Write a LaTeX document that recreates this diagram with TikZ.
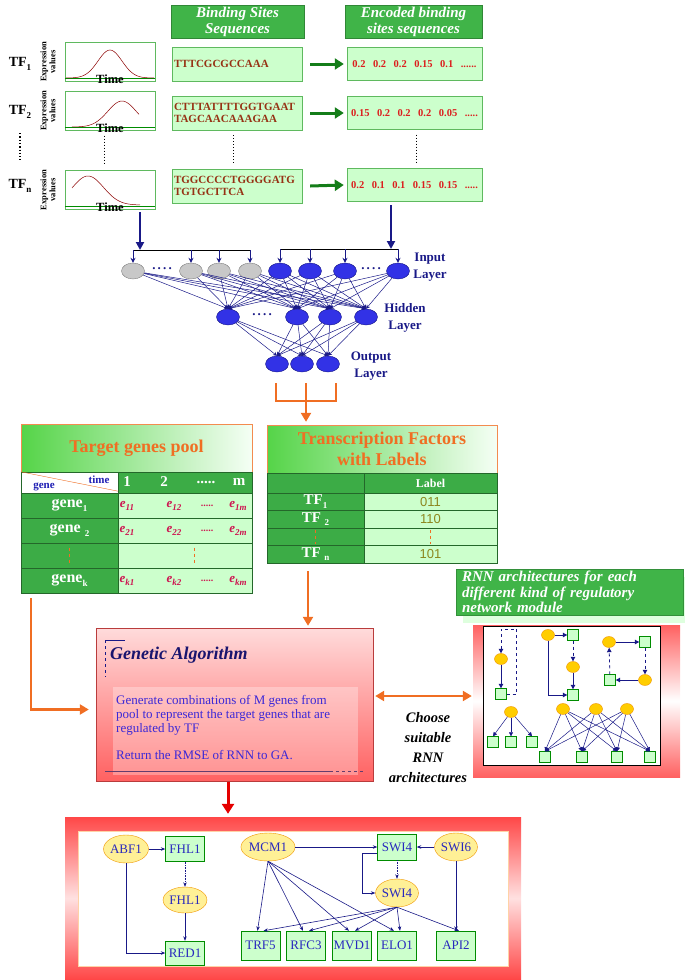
\documentclass[tikz,border=0pt]{standalone}
\usepackage{fontspec}
\setmainfont{Liberation Serif}
\newfontfamily\arialfont{Liberation Sans}
\usetikzlibrary{arrows.meta,shapes.geometric,positioning}

\definecolor{hdrgreen}{RGB}{64,180,72}
\definecolor{tabgreen}{RGB}{60,172,70}
\definecolor{headlime}{RGB}{85,212,72}
\definecolor{cellgreen}{RGB}{204,255,204}
\definecolor{edgegreen}{RGB}{95,185,95}
\definecolor{arrowgreen}{RGB}{20,125,25}
\definecolor{seqbrown}{RGB}{150,50,20}
\definecolor{codered}{RGB}{220,30,30}
\definecolor{cellred}{RGB}{205,20,80}
\definecolor{nnblue}{RGB}{50,50,230}
\definecolor{nngray}{RGB}{200,200,200}
\definecolor{navy}{RGB}{25,25,135}
\definecolor{pumpkin}{RGB}{240,110,35}
\definecolor{gatitle}{RGB}{25,20,110}
\definecolor{gatext}{RGB}{60,40,215}
\definecolor{garim}{RGB}{185,60,60}
\definecolor{plum}{RGB}{100,60,110}
\definecolor{netblue}{RGB}{40,40,190}
\definecolor{knot}{RGB}{255,205,0}
\definecolor{knotrim}{RGB}{240,150,0}
\definecolor{paleknot}{RGB}{255,240,150}
\definecolor{olivetxt}{RGB}{140,135,30}
\definecolor{labblue}{RGB}{30,30,180}

\newcommand*\fsz[1]{\fontsize{#1}{#1}\selectfont}
\newcommand*\lowsub[1]{\raisebox{-0.5ex}{\fsz{9}#1}}
\newcommand*\vgap{\hspace{7.5pt}}

\tikzset{
  hdrbox/.style={draw=hdrgreen!75!black, fill=hdrgreen, text=white, align=center,
    font=\bfseries\itshape\fontsize{15}{16}\selectfont, minimum height=33pt},
  plotbox/.style={draw=edgegreen, fill=white, minimum width=90pt, minimum height=39pt},
  exprlab/.style={rotate=90, align=center, font=\bfseries\fontsize{8.5}{9}\selectfont},
  tflab/.style={font=\bfseries\fsz{14}},
  curve/.style={draw=red!55!black, line width=.5pt},
  seqbox/.style={draw=edgegreen, fill=cellgreen, minimum width=130pt, minimum height=34pt,
    text width=126pt, align=left, text=seqbrown, font=\bfseries\fontsize{11}{12}\selectfont},
  encbox/.style={draw=edgegreen, fill=cellgreen, minimum width=135pt, minimum height=33pt,
    text=codered, font=\bfseries\fsz{10.5}},
  grnarrow/.style={arrowgreen, line width=3pt, -{Triangle[length=9pt,width=11pt]}},
  vdots/.style={dotted, line width=1pt},
  % neural network
  graynode/.style={ellipse, draw=gray, fill=nngray, minimum width=23pt, minimum height=16pt},
  bluenode/.style={ellipse, draw=navy, fill=nnblue, minimum width=23pt, minimum height=16pt},
  nnedge/.style={navy, line width=.5pt, -{Stealth[length=4pt,width=4pt]}},
  feedarrow/.style={navy, line width=.8pt, -{Stealth[length=5pt,width=5pt]}},
  bigarrow/.style={navy, line width=2pt, -{Triangle[length=8pt,width=8pt]}},
  layerlab/.style={text=navy, align=center, font=\bfseries\fontsize{13}{16.5}\selectfont},
  % tables
  tabhead/.style={draw=pumpkin!80, left color=headlime, right color=green!4, text=pumpkin,
    align=center, font=\bfseries\fontsize{18}{21}\selectfont},
  darkcell/.style={draw=tabgreen!60!black, fill=tabgreen, text=white},
  lightcell/.style={draw=tabgreen!60!black, fill=cellgreen},
  ecell/.style={text=cellred, font=\bfseries\itshape\fsz{13}},
  orline/.style={pumpkin, line width=2.5pt},
  orarrow/.style={pumpkin, line width=2.5pt, -{Triangle[length=9pt,width=10pt]}},
  % genetic algorithm
  gabox/.style={draw=garim, top color=red!14, bottom color=red!62!white, minimum width=277pt, minimum height=153pt},
  redarrow/.style={red!90!black, line width=3pt, -{Triangle[length=10pt,width=12pt]}},
  % small RNN modules
  rknot/.style={ellipse, draw=knotrim, fill=knot, minimum width=13pt, minimum height=11pt},
  rsq/.style={draw=green!55!black, fill=cellgreen, minimum width=11pt, minimum height=11pt},
  rarr/.style={navy, line width=1pt, -{Triangle[length=4.5pt,width=4.5pt]}},
  rthin/.style={navy, line width=.5pt, -{Triangle[length=4pt,width=4pt]}},
  % regulatory network
  tfell/.style={ellipse, draw=knotrim, fill=paleknot, text=netblue, font=\fsz{13},
    minimum width=40pt, minimum height=28pt},
  tgbox/.style={draw=green!55!black, fill=cellgreen, text=netblue, font=\fsz{13},
    minimum width=39pt, minimum height=27pt},
  netarr/.style={navy, line width=.6pt, -{Stealth[length=4.5pt,width=3.5pt]}},
}

\begin{document}
\begin{tikzpicture}[x=1pt, y=-1pt, every node/.style={inner sep=0pt}]
\useasboundingbox (0,0) rectangle (685,980);

% ---- expression profiles and binding sites
\node[hdrbox, minimum width=133pt] (bindhd) at (237.5,22) {Binding Sites\\Sequences};
\node[hdrbox, minimum width=137pt] (enchd) at (413.5,22) {Encoded binding\\sites sequences};

\foreach \i/\y in {1/62, 2/111, n/190}{
  \node[plotbox] (plot\i) at (110,\y) {};
  \node[exprlab] (expr\i) at (48,\y) {Expression\\values};
  \draw[green!55!black, line width=.8pt] ([yshift=3pt]plot\i.south west) -- ([yshift=3pt]plot\i.south east);
  \node[font=\bfseries\fsz{12.5}] (time\i) at ([yshift=2pt]plot\i.south) {Time};
}
\draw[curve] plot[domain=66:154, samples=45] (\x,{78-28*exp(-((\x-110)/17)*((\x-110)/17))});
\draw[curve] plot[domain=72:139, samples=45] (\x,{127-26*exp(-((\x-122)/20)*((\x-122)/20))});
\draw[curve] plot[domain=72:140, samples=45] (\x,{205-29*exp(-((\x-88)/22)*((\x-88)/22))});

\node[tflab] (tf1) at (20,64) {TF\lowsub{1}};
\node[tflab] (tf2) at (20,112) {TF\lowsub{2}};
\node[tflab] (tfn) at (20,186) {TF\lowsub{n}};
\draw[vdots, line width=1.3pt] (tf2) ++(0,21) -- ++(0,27);

\node[seqbox] (seq1) at (237,64) {TTTCGCGCCAAA};
\node[seqbox] (seq2) at (237,113) {CTTTATTTTGGTGAAT\\TAGCAACAAAGAA};
\node[seqbox] (seqn) at (237,186) {TGGCCCCTGGGGATG\\TGTGCTTCA};

\node[encbox] (enc1) at (414.5,64) {0.2\vgap 0.2\vgap 0.2\vgap 0.15\vgap 0.1\vgap ......};
\node[encbox] (enc2) at (414.5,113) {0.15\vgap 0.2\vgap 0.2\vgap 0.2\vgap 0.05\vgap .....};
\node[encbox] (encn) at (414.5,185) {0.2\vgap 0.1\vgap 0.1\vgap 0.15\vgap 0.15\vgap .....};

\foreach \i in {1,2,n}
  \draw[grnarrow] ([xshift=8pt]seq\i.east) -- ([xshift=-3pt]enc\i.west);

\draw[vdots] ([xshift=-6pt,yshift=-5pt]plot2.south) -- ([xshift=-6pt,yshift=5pt]plotn.north);
\draw[vdots] ([xshift=-4pt,yshift=-5pt]seq2.south) -- ([xshift=-4pt,yshift=6pt]seqn.north);
\draw[vdots] ([xshift=1.5pt,yshift=-5pt]enc2.south) -- ([xshift=1.5pt,yshift=6pt]encn.north);

% ---- neural network
\foreach \x [count=\i] in {133,191,219,250}
  \node[graynode] (in\i) at (\x,271) {};
\foreach \x [count=\i from 5] in {280,310,345,398}
  \node[bluenode] (in\i) at (\x,271) {};
\foreach \x [count=\i] in {228,297,330,366}
  \node[bluenode] (hd\i) at (\x,317) {};
\foreach \x [count=\i] in {277,302,328}
  \node[bluenode] (out\i) at (\x,364) {};

\node[text=navy, font=\bfseries\fsz{13}] (indotsL) at (162,269) {.\,.\,.\,.};
\node[text=navy, font=\bfseries\fsz{13}] (indotsR) at (371,269) {.\,.\,.\,.};
\node[text=navy, font=\bfseries\fsz{13}] (hddots) at (262,315) {.\,.\,.\,.};

\foreach \i in {1,...,8}
  \foreach \j in {1,...,4}
    \draw[nnedge] (in\i) -- (hd\j.north);
\foreach \j in {1,...,4}
  \foreach \k in {1,2,3}
    \draw[nnedge] (hd\j) -- (out\k.north);

\coordinate (brkL) at (133,250);
\coordinate (brkR) at (279,249);
\draw[black, line width=1pt] (in1 |- brkL) -- (in4 |- brkL);
\draw[black, line width=1pt] (in5 |- brkR) -- (in8 |- brkR);
\foreach \i in {1,...,4}
  \draw[feedarrow] (in\i |- brkL) -- (in\i.north);
\foreach \i in {5,...,8}
  \draw[feedarrow] (in\i |- brkR) -- (in\i.north);

\coordinate (plotout) at (140,212);
\coordinate (encout) at (391,205);
\draw[bigarrow] (plotout) -- (plotout |- brkL);
\draw[bigarrow] (encout) -- (encout |- brkR);

\node[layerlab] (inlab) at (430,267) {Input\\Layer};
\node[layerlab] (hdlab) at (405,318) {Hidden\\Layer};
\node[layerlab] (outlab) at (371,366) {Output\\Layer};

% ---- target genes pool
\node[tabhead, minimum width=231pt, minimum height=48pt] (poolhd) at (136.5,448) {Target genes pool};
\node[draw=tabgreen!60!black, fill=white, minimum width=97pt, minimum height=21pt] (pl0) at (69.5,482.5) {};
\draw[pumpkin] (pl0.north west) -- ([yshift=2pt]pl0.south east);
\node[text=labblue, font=\bfseries\fsz{11}] (genelab) at (44,487) {gene};
\node[text=labblue, font=\bfseries\fsz{11}] (timelab) at (99,480) {time};
\node[darkcell, minimum width=134pt, minimum height=21pt] (pr0) at (185,482.5) {};
\foreach \x/\t in {127/1, 164/2, 206/{.....}, 239/m}
  \node[text=white, font=\bfseries\fsz{15}] (col\x) at (\x,482) {\t};

\foreach \n/\y/\lab in {1/505.5/{gene\lowsub{1}}, 2/530.5/{gene \lowsub{2}}, 3/555.5/{}, k/580.5/{gene\lowsub{k}}}{
  \node[darkcell, minimum width=97pt, minimum height=25pt, font=\bfseries\fsz{16}] (pl\n) at (69.5,\y) {\lab};
  \node[lightcell, minimum width=134pt, minimum height=25pt] (pr\n) at (185,\y) {};
}
\foreach \n/\y in {1/505.5, 2/530.5, k/580.5}{
  \node[ecell] (e\n1) at (127,\y) {e\lowsub{\n1}};
  \node[ecell] (e\n2) at (174,\y) {e\lowsub{\n2}};
  \node[ecell, font=\bfseries\fsz{10}] (e\n d) at (207,\y) {.....};
  \node[ecell] (e\n m) at (238,\y) {e\lowsub{\n m}};
}
\draw[pumpkin, dashed, line width=.8pt] ([yshift=8pt]pl3.center) -- ([yshift=-8pt]pl3.center);
\draw[pumpkin, dashed, line width=.8pt] ([xshift=9pt,yshift=8pt]pr3.center) -- ([xshift=9pt,yshift=-8pt]pr3.center);

% ---- transcription factors with labels
\node[tabhead, minimum width=230pt, minimum height=48pt] (tfhd) at (382,449) {Transcription Factors\\with Labels};
\node[darkcell, minimum width=97pt, minimum height=20pt] (tl0) at (315.5,483) {};
\node[darkcell, minimum width=133pt, minimum height=20pt, font=\bfseries\fsz{12}] (tr0) at (430.5,483) {Label};
\foreach \n/\y/\lab/\code in {1/501.75/{TF\lowsub{1}}/011, 2/519.25/{TF \lowsub{2}}/110, 3/536.75/{}/{}, n/554.25/{TF \lowsub{n}}/101}{
  \node[darkcell, minimum width=97pt, minimum height=17.5pt, font=\bfseries\fsz{15}] (tl\n) at (315.5,\y) {\lab};
  \node[lightcell, minimum width=133pt, minimum height=17.5pt, text=olivetxt, font=\arialfont\fsz{13}] (tr\n) at (430.5,\y) {\code};
}
\draw[pumpkin, dashed, line width=.8pt] ([yshift=7pt]tl3.center) -- ([yshift=-7pt]tl3.center);
\draw[pumpkin, dashed, line width=.8pt] ([yshift=7pt]tr3.center) -- ([yshift=-7pt]tr3.center);

% ---- orange connectors
\coordinate (ob1) at (276,383);
\coordinate (ob2) at (306,383);
\coordinate (ob3) at (336,383);
\draw[orline] (ob1) -- ++(0,18) -| (ob3);
\draw[orarrow, shorten >=3pt] (ob2) -- (ob2 |- tfhd.north);

% ---- genetic algorithm
\node[gabox] (ga) at (234.5,704.5) {};
\node[fill=white, fill opacity=.3, minimum width=245pt, minimum height=88pt] (gainner) at (235.5,731) {};
\node[anchor=west, text=gatitle, font=\bfseries\itshape\fsz{18}] (gatitle) at (110,655) {Genetic Algorithm};
\draw[navy] (105,640) -- (125,640);
\draw[navy, dashed] (105,640) -- (105,677);
\node[anchor=north west, align=left, text=gatext, font=\fontsize{13}{14}\selectfont] (gatext) at (116,695)
  {Generate combinations of M genes from\\pool to represent the target genes that are\\regulated by TF\\[13pt]Return the RMSE of RNN to GA.};
\draw[plum, line width=.8pt] (105,771) -- (330,771);
\draw[plum, line width=.8pt, dashed] (330,771) -- (364,771);

\coordinate (poolout) at (31,598);
\draw[orarrow] (poolout) |- ([xshift=-7pt,yshift=-5pt]ga.west);
\coordinate (tfout) at (308,571);
\draw[orarrow] (tfout) -- ([yshift=2pt]tfout |- ga.north);

% ---- RNN architectures
\node[fill=green!13, minimum width=227pt, minimum height=46pt] (rnnshadow) at (576,600) {};
\node[fill=hdrgreen, draw=hdrgreen!80!black, minimum width=227pt, minimum height=46pt,
  text width=215pt, align=left, text=white, font=\bfseries\itshape\fontsize{15}{15.5}\selectfont]
  (rnnhd) at (569.5,592) {RNN architectures for each\\different kind of regulatory\\network module};
\node[top color=red!62, bottom color=red!62, middle color=white, minimum width=207pt, minimum height=152pt] (rnnframe) at (576.5,701) {};
\node[draw=black, fill=white, minimum width=177pt, minimum height=139pt] (rnnpanel) at (571.5,695.5) {};

\draw[orarrow, {Triangle[length=9pt,width=10pt]}-{Triangle[length=9pt,width=10pt]}]
  ([xshift=2pt,yshift=8.5pt]ga.east) -- ([xshift=-1pt,yshift=5pt]rnnframe.west);
\node[align=center, font=\bfseries\itshape\fontsize{14.5}{20}\selectfont] (choose) at (428,748)
  {Choose\\suitable\\RNN\\architectures};

% self loop module
\node[rknot] (ca) at (501,659) {};
\node[rsq] (sa) at (501,694) {};
\draw[rarr] (ca) -- (sa);
\draw[rarr, dashed, line width=.8pt] (sa.east) -- ++(10,0) -- ++(0,-65) -| (ca.north);
% cascade module
\node[rknot] (cb) at (548,635) {};
\node[rsq] (sb) at (573,635) {};
\node[rknot] (cc) at (573,667) {};
\node[rsq] (sc) at (573,695) {};
\draw[rarr] (cb) -- (sb);
\draw[rarr, dashed, line width=.8pt] (sb) -- (cc);
\draw[rarr] (cc) -- (sc);
\draw[rarr] (cb.south) |- (sc.west);
% feedback loop module
\node[rknot] (cd) at (609,642) {};
\node[rsq] (sd) at (645,642) {};
\node[rknot] (ce) at (645,680) {};
\node[rsq] (se) at (610,680) {};
\draw[rarr] (cd) -- (sd);
\draw[rarr, dashed, line width=.8pt] (sd) -- (ce);
\draw[rarr] (ce) -- (se);
\draw[rarr, dashed, line width=.8pt] (se) -- (cd);
% single input module
\node[rknot] (cf) at (511,712) {};
\foreach \x [count=\i] in {493,511,532}{
  \node[rsq] (sf\i) at (\x,742) {};
  \draw[rthin] (cf) -- (sf\i.north);
}
% dense overlapping module
\foreach \x [count=\i] in {563,596,627}
  \node[rknot] (cg\i) at (\x,709) {};
\foreach \x [count=\j] in {545,582,617,650}
  \node[rsq] (sg\j) at (\x,757) {};
\foreach \i in {1,2,3}
  \foreach \j in {1,...,4}
    \draw[rthin] (cg\i) -- (sg\j.north);

% ---- inferred regulatory network
\coordinate (gaout) at (228,782);
\node[top color=red!72, bottom color=red!72, middle color=red!12, minimum width=456pt, minimum height=162pt] (netframe) at (293,898) {};
\node[draw=orange!35, fill=white, minimum width=430pt, minimum height=135pt] (netpanel) at (293,898.5) {};
\draw[redarrow] (gaout) -- ([yshift=3pt]gaout |- netframe.north);

\node[tfell] (abf) at (126,849) {ABF1};
\node[tgbox, minimum height=25pt] (fhlbox) at (185,849) {FHL1};
\node[tfell, minimum width=38pt, minimum height=26pt] (fhlell) at (185,900) {FHL1};
\node[tgbox, minimum height=24pt] (red1) at (185,953) {RED1};
\node[tfell] (mcm) at (268,847) {MCM1};
\node[tgbox, minimum height=26pt] (swibox) at (397,847) {SWI4};
\node[tfell, minimum width=38pt] (swi6) at (456,847) {SWI6};
\node[tfell] (swiell) at (397,893) {SWI4};
\foreach \g/\x/\lab in {trf5/260.5/TRF5, rfc3/306/RFC3, mvd1/352/MVD1, elo1/397/ELO1, api2/456/API2}
  \node[tgbox, minimum height=29pt] (\g) at (\x,945.5) {\lab};

\draw[netarr] (abf) -- (fhlbox);
\draw[netarr, densely dotted] (fhlbox) -- (fhlell);
\draw[netarr] (fhlell) -- (red1);
\draw[netarr] (abf.south) |- (red1.west);
\draw[netarr] (mcm) -- (swibox);
\draw[netarr] (swi6) -- (swibox);
\draw[netarr, densely dotted] (swibox) -- (swiell);
\draw[netarr] ([yshift=-6pt]swibox.west) -- ++(-15,0) |- (swiell.west);
\foreach \g in {trf5, rfc3, mvd1, elo1}
  \draw[netarr] (mcm.south) -- ([xshift=-3pt]\g.north);
\foreach \g in {trf5, rfc3, mvd1, elo1, api2}
  \draw[netarr] (swiell.south) -- ([xshift=3pt]\g.north);
\draw[netarr] (swi6) -- (api2);
\end{tikzpicture}
\end{document}
